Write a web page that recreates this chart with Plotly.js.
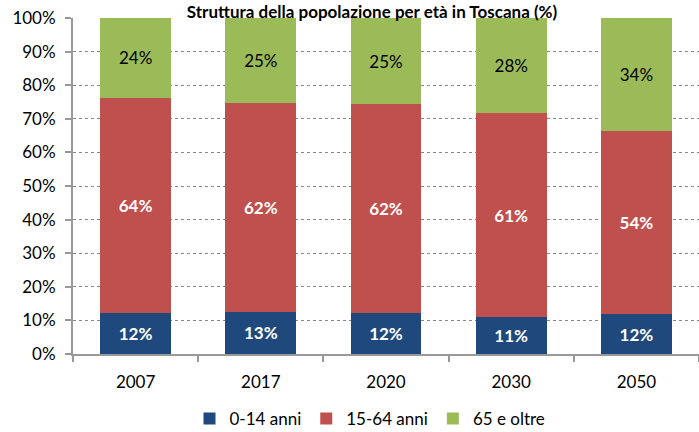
<!DOCTYPE html>
<html><head><meta charset="utf-8">
<script src="https://cdn.plot.ly/plotly-3.0.1.min.js"></script>
<style>html,body{margin:0;padding:0;background:#fff}</style>
</head><body>
<div id="chart" style="width:699px;height:432px"></div>
<script>
const years = ["2007", "2017", "2020", "2030", "2050"];
const age0_14 = [12.2, 12.6, 12.2, 11.0, 11.9];
const age15_64 = [64.0, 62.1, 62.2, 60.7, 54.5];
const age65 = [23.8, 25.3, 25.6, 28.3, 33.6];
const labels0_14 = ["12%", "13%", "12%", "11%", "12%"];
const labels15_64 = ["64%", "62%", "62%", "61%", "54%"];
const labels65 = ["24%", "25%", "25%", "28%", "34%"];
const yTickVals = [0,10,20,30,40,50,60,70,80,90,100];
const yTickText = ["0%","10%","20%","30%","40%","50%","60%","70%","80%","90%","100%"];

const font = "Lato, Open Sans, sans-serif";
function trace(name, y, txt, color, tcolor, bold) {
  return {
    type: "bar", name: name, x: years, y: y,
    text: txt.map(t => bold ? "<b>" + t + "</b>" : t),
    textposition: "inside", insidetextanchor: "middle",
    textfont: {color: tcolor, size: 17, family: font},
    marker: {color: color, line: {width: 0}},
    width: 0.565, hoverinfo: "skip"
  };
}
const data = [
  trace("0-14 anni", age0_14, labels0_14, "#1F497D", "#ffffff", true),
  trace("15-64 anni", age15_64, labels15_64, "#C0504D", "#ffffff", true),
  trace("65 e oltre", age65, labels65, "#9BBB59", "#000000", false)
];
const layout = {
  barmode: "stack",
  width: 699, height: 432,
  margin: {l: 73, r: 0, t: 18, b: 78},
  paper_bgcolor: "#fff", plot_bgcolor: "#fff",
  font: {family: font, size: 17, color: "#000"},
  title: {text: "<b>Struttura della popolazione per età in Toscana (%)</b>",
          font: {size: 17, family: font, color: "#000"},
          xref: "container", x: 372/699, xanchor: "center",
          yref: "container", y: 1 - 12/432, yanchor: "middle"},
  xaxis: {type: "category", showline: true, linecolor: "#999", linewidth: 2,
          ticks: "outside", tickson: "boundaries", ticklen: 6, tickcolor: "#999", tickwidth: 2,
          ticklabelstandoff: 12,
          showgrid: false, tickfont: {size: 17, family: font}, range: [-0.5, 4.5]},
  yaxis: {range: [0, 100], tickvals: yTickVals, ticktext: yTickText,
          showline: true, linecolor: "#999", linewidth: 2,
          ticks: "outside", ticklen: 6, tickcolor: "#999", tickwidth: 2,
          ticklabelstandoff: 6,
          showgrid: true, gridcolor: "#888", griddash: "dot", gridwidth: 1,
          zeroline: false, tickfont: {size: 17, family: font}},
  showlegend: true,
  legend: {orientation: "h", xref: "container", x: 370/699, xanchor: "center",
           yref: "container", y: 13/432, yanchor: "middle",
           font: {size: 17, family: font}, traceorder: "normal",
           itemwidth: 30, tracegroupgap: 0}
};
Plotly.newPlot("chart", data, layout, {displayModeBar: false, staticPlot: true});
</script>
</body></html>
